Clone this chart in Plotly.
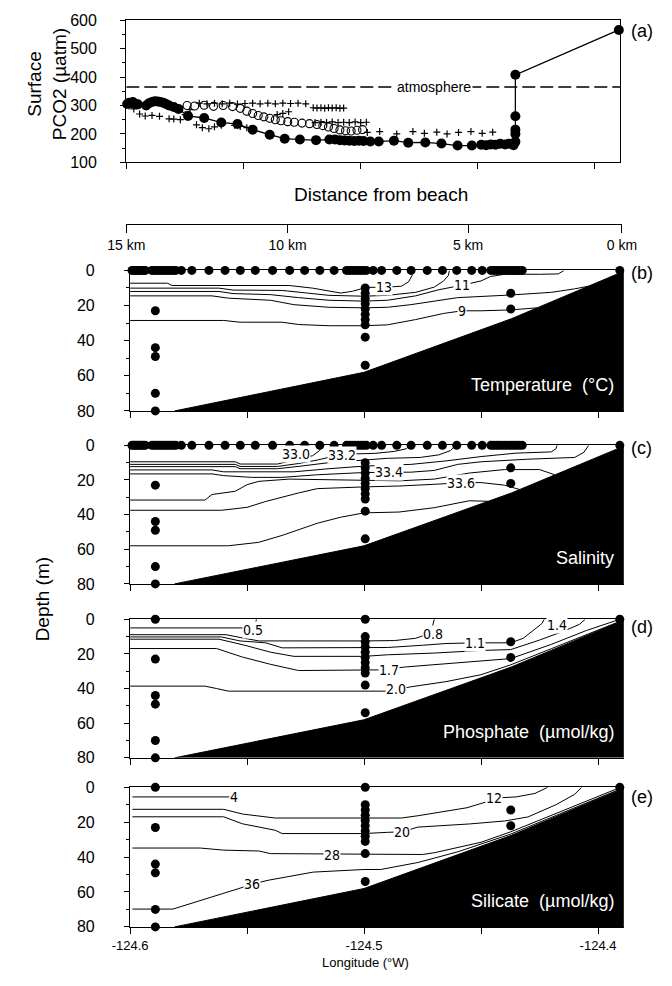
import plotly.graph_objects as go

# ---------------- panel (a): surface pCO2 ----------------
pco2_filled_lon = [-124.5996, -124.5988, -124.5980, -124.5972, -124.5963, -124.5951, -124.5915, -124.5903,
                   -124.5890, -124.5878, -124.5866, -124.5854, -124.5842, -124.5830, -124.5817, -124.5797,
                   -124.5777, -124.5736, -124.5667, -124.5594, -124.5525, -124.5460, -124.5387, -124.5323,
                   -124.5258, -124.5189, -124.5132, -124.5108, -124.5087, -124.5067, -124.5047, -124.5026,
                   -124.5006, -124.4986, -124.4957, -124.4921, -124.4856, -124.4795, -124.4722, -124.4653,
                   -124.4584, -124.4523, -124.4483, -124.4462, -124.4442, -124.4422, -124.4402, -124.4381,
                   -124.4365, -124.4345, -124.4337, -124.4337, -124.4337, -124.4337, -124.4337, -124.3895]
pco2_filled_val = [305, 310, 308, 312, 306, 304, 300, 308,
                   312, 315, 314, 312, 310, 305, 300, 295,
                   288, 263, 256, 240, 235, 215, 197, 183,
                   180, 178, 180, 180, 178, 177, 176, 175,
                   176, 175, 173, 173, 176, 169, 170, 166,
                   159, 159, 162, 160, 163, 162, 165, 163,
                   165, 160, 172, 200, 215, 262, 408, 566]
pco2_open_lon = [-124.5740, -124.5708, -124.5667, -124.5627, -124.5586, -124.5546, -124.5513, -124.5485,
                 -124.5460, -124.5436, -124.5412, -124.5387, -124.5363, -124.5339, -124.5310, -124.5282,
                 -124.5249, -124.5217, -124.5185, -124.5160, -124.5136, -124.5112, -124.5087, -124.5063,
                 -124.5039, -124.5014, -124.4990]
pco2_open_val = [300, 298, 301, 297, 300, 296, 290, 280,
                 272, 265, 260, 255, 250, 246, 243, 241,
                 238, 236, 233, 229, 224, 219, 214, 211,
                 210, 213, 215]
pco2_cross_lon = [-124.5988, -124.5968, -124.5943, -124.5919, -124.5890, -124.5858, -124.5817, -124.5797,
                  -124.5769, -124.5748, -124.5728, -124.5700, -124.5675, -124.5647, -124.5623, -124.5594,
                  -124.5688, -124.5655, -124.5623, -124.5590, -124.5558, -124.5525, -124.5493, -124.5460,
                  -124.5428, -124.5395, -124.5363, -124.5331, -124.5298, -124.5266, -124.5233,
                  -124.5537, -124.5513, -124.5485, -124.5355, -124.5331, -124.5306,
                  -124.5201, -124.5185, -124.5168, -124.5152, -124.5136, -124.5120, -124.5103, -124.5087, -124.5071,
                  -124.5193, -124.5168, -124.5144, -124.5120, -124.5095, -124.5071, -124.5047, -124.5022,
                  -124.4998, -124.4974,
                  -124.4970, -124.4917, -124.4844, -124.4775, -124.4726, -124.4673, -124.4629, -124.4580,
                  -124.4527, -124.4479, -124.4434]
pco2_cross_val = [298, 288, 270, 263, 265, 262, 253, 252,
                  250, 268, 285, 232, 222, 218, 225, 230,
                  308, 306, 308, 306, 308, 305, 307, 308,
                  306, 308, 306, 308, 307, 308, 306,
                  230, 226, 222, 268, 272, 278,
                  292, 291, 292, 290, 292, 291, 292, 290, 291,
                  240, 241, 240, 242, 240, 241, 240, 242,
                  240, 241,
                  205, 208, 200, 208, 202, 206, 200, 205,
                  208, 202, 206]
atm_pco2 = 365
atm_lon = [-124.6, -124.389]
pco2_ticks = [100, 200, 300, 400, 500, 600]
pco2_minor = [150, 250, 350, 450, 550]

# ---------------- distance / longitude axes ----------------
dist_labels = ["15 km", "10 km", "5 km", "0 km"]
dist_lon = [-124.6016, -124.5327, -124.4556, -124.3899]
lon_ticks = [-124.6, -124.55, -124.5, -124.45, -124.4]
lon_ticktext = ["-124.6", "", "-124.5", "", "-124.4"]
lon_range = [-124.6, -124.389]
depth_ticks = [0, 20, 40, 60, 80]
depth_minor = [10, 30, 50, 70]

# ---------------- bathymetry ----------------
bathy_lon = [-124.581, -124.5, -124.437, -124.389, -124.389]
bathy_depth = [80, 58, 27.5, 0.5, 80]

# ---------------- sampling ----------------
underway_lon = [-124.5992, -124.5984, -124.5976, -124.5968, -124.5959, -124.5951, -124.5943, -124.5935,
                -124.5907, -124.5897, -124.5886, -124.5876, -124.5866, -124.5856, -124.5846, -124.5836,
                -124.5826, -124.5815, -124.5805,
                -124.5781, -124.5736, -124.5663, -124.5594, -124.5529, -124.5465, -124.5391, -124.5318,
                -124.5254, -124.5189, -124.5128,
                -124.5075, -124.5063, -124.5051, -124.5039, -124.5026, -124.5014, -124.5002, -124.4990,
                -124.4961, -124.4925, -124.4860, -124.4799, -124.4730, -124.4665, -124.4604, -124.4540,
                -124.4495,
                -124.4458, -124.4446, -124.4434, -124.4422, -124.4410, -124.4397, -124.4385, -124.4373,
                -124.4361, -124.4349, -124.4337, -124.4324,
                -124.3907]
station_lon = [-124.5892, -124.4995, -124.4373]
station_depths = [[23, 44, 49, 70, 80],
                  [10, 13, 16, 19, 22, 25, 28, 31, 38, 54],
                  [13, 22]]
surface_cast_lon = [-124.5892, -124.4995, -124.3907]

# ---------------- isolines (lon, depth) ----------------
temp_lines = {
    "13": ([-124.6, -124.584, -124.582, -124.532, -124.522, -124.515, -124.51, -124.505, -124.499, -124.49,
            -124.484, -124.481, -124.4795, -124.4795],
           [7.3, 7.3, 8.6, 8.6, 10.1, 11.9, 12.9, 11.9, 9.7, 9.5, 9, 6.5, 3, 0]),
    "12": ([-124.6, -124.562, -124.556, -124.535, -124.525, -124.515, -124.5, -124.49, -124.478, -124.47,
            -124.466, -124.464, -124.4635],
           [10.1, 10.1, 11.2, 11.4, 12.8, 14.2, 14.7, 14.2, 12.5, 9.5, 6, 3, 0]),
    "11": ([-124.6, -124.562, -124.556, -124.54, -124.528, -124.515, -124.5, -124.49, -124.478, -124.468,
            -124.458, -124.45, -124.446, -124.44, -124.425, -124.417, -124.4145],
           [12, 12, 13.2, 13.8, 15.5, 17, 17.5, 17, 14.5, 11, 8.4, 6, 3.5, 2.2, 2.2, 2, 0]),
    "10": ([-124.6, -124.565, -124.558, -124.54, -124.53, -124.515, -124.5, -124.49, -124.48, -124.46,
            -124.4373, -124.42, -124.41, -124.404],
           [14.5, 14.5, 15.8, 17, 19.5, 21, 21.3, 21, 19.5, 15.5, 14, 12.5, 10.5, 9.0]),
    "9": ([-124.6, -124.56, -124.553, -124.535, -124.528, -124.515, -124.5, -124.49, -124.478, -124.466,
           -124.458, -124.45, -124.4373, -124.426],
          [28.5, 28.5, 29.5, 29.5, 30.8, 31.5, 31.5, 31, 28, 24.5, 23, 23, 22.5, 21.3]),
}
temp_labels = [("13", -124.4915, 9.5), ("11", -124.458, 8.4), ("9", -124.458, 23)]

sal_lines = {
    "33.0": ([-124.6, -124.555, -124.553, -124.537, -124.533, -124.527, -124.522, -124.519, -124.518],
             [9.5, 9.5, 10.8, 10.8, 9.5, 7.8, 6, 3, 0]),
    "33.1": ([-124.6, -124.555, -124.553, -124.537, -124.528, -124.52, -124.513, -124.505, -124.495,
              -124.487, -124.482, -124.4805],
             [11, 11, 12.2, 12.2, 10.5, 8.5, 6.3, 5, 4.6, 3.5, 2, 0]),
    "33.2": ([-124.6, -124.555, -124.553, -124.537, -124.527, -124.515, -124.5, -124.49, -124.476,
              -124.468, -124.463, -124.461],
             [12.3, 12.3, 13.5, 13.5, 12, 10, 8.5, 7.5, 7, 5.5, 3, 0]),
    "33.3": ([-124.6, -124.565, -124.56, -124.53, -124.515, -124.5, -124.48, -124.465, -124.45, -124.435,
              -124.42, -124.418, -124.4175],
             [14.2, 14.2, 15.3, 15.3, 13.5, 12, 11, 9, 6.5, 4.5, 3.8, 2, 0]),
    "33.4": ([-124.6, -124.565, -124.56, -124.548, -124.535, -124.52, -124.5, -124.48, -124.47, -124.46,
              -124.45, -124.43, -124.41, -124.406, -124.404],
             [16.5, 16.5, 17.5, 18.5, 18.5, 17, 15.7, 15.5, 14.5, 11, 9.5, 8, 7, 4, 0]),
    "33.5": ([-124.6, -124.568, -124.565, -124.555, -124.55, -124.545, -124.532, -124.515, -124.5,
              -124.485, -124.47, -124.455, -124.44, -124.425, -124.4185],
             [31.6, 31.6, 28.4, 26.5, 22.7, 20.8, 19.5, 19.8, 20, 20.5, 19.5, 16, 14, 14, 17]),
    "33.6": ([-124.6, -124.561, -124.55, -124.542, -124.528, -124.52, -124.5, -124.485, -124.47,
              -124.4585, -124.45, -124.44, -124.4335],
             [37.5, 37.5, 35.8, 32.4, 27.5, 25, 24, 23.5, 22.5, 21.6, 21.5, 23, 25.5]),
    "33.7": ([-124.6, -124.558, -124.545, -124.535, -124.52, -124.51, -124.5, -124.485, -124.47, -124.455,
              -124.447],
             [58, 58, 56, 52, 45, 41.5, 39, 38.5, 36, 32, 32.3]),
}
sal_labels = [("33.0", -124.529, 5.2), ("33.2", -124.5095, 5.4), ("33.4", -124.4895, 15.4),
              ("33.6", -124.4585, 21.6)]

phos_lines = {
    "0.5": ([-124.6, -124.55, -124.5465, -124.546], [5, 5, 3, 0]),
    "0.8": ([-124.6, -124.559, -124.553, -124.545, -124.5, -124.487, -124.478, -124.4715, -124.47],
            [8.9, 8.9, 10.5, 12.5, 12.5, 12.3, 11, 8, 0]),
    "1.1": ([-124.6, -124.561, -124.553, -124.542, -124.535, -124.5, -124.49, -124.475, -124.465, -124.4527,
             -124.44, -124.4373, -124.432, -124.427, -124.424, -124.423],
            [10.2, 10.2, 12.5, 13.6, 16.5, 16.5, 16.3, 15, 14, 13.6, 13.6, 13.6, 11, 6, 2.5, 0]),
    "1.4": ([-124.6, -124.562, -124.551, -124.54, -124.53, -124.5, -124.49, -124.47, -124.45, -124.4373,
             -124.425, -124.415, -124.408, -124.4055],
            [11.5, 11.5, 15, 19, 21.4, 21.4, 20.5, 19.5, 18, 17.5, 12, 7, 3, 0]),
    "1.7": ([-124.6, -124.563, -124.552, -124.54, -124.528, -124.5, -124.492, -124.483, -124.465, -124.45,
             -124.4373, -124.42, -124.405, -124.392],
            [16.9, 16.9, 21.8, 26, 29.6, 29.6, 29.2, 27.6, 25.5, 24, 22.7, 14.5, 6.5, 0.6]),
    "2.0": ([-124.6, -124.568, -124.563, -124.558, -124.5, -124.49, -124.48, -124.465, -124.45, -124.4373,
             -124.42, -124.405, -124.391],
            [38.6, 38.6, 40, 41.5, 41.5, 41.5, 39, 36, 32, 26.3, 17, 8.8, 1.4]),
}
phos_labels = [("0.5", -124.5475, 6.0), ("0.8", -124.4705, 8.5), ("1.1", -124.4527, 13.6),
               ("1.4", -124.4175, 3.4), ("1.7", -124.4895, 29.2), ("2.0", -124.4865, 40.5)]

sil_lines = {
    "4": ([-124.599, -124.5575], [5.5, 5.5]),
    "12": ([-124.599, -124.56, -124.552, -124.538, -124.484, -124.477, -124.456, -124.447, -124.442,
            -124.435, -124.427, -124.4215],
           [12.6, 12.6, 15.3, 17.6, 17.6, 16.3, 11.7, 8, 6, 5.5, 3.5, 0]),
    "20": ([-124.599, -124.56, -124.552, -124.538, -124.535, -124.5, -124.49, -124.4836, -124.477, -124.455,
            -124.44, -124.43, -124.418, -124.41, -124.407],
           [16.9, 16.9, 20.9, 24.6, 26.5, 26.5, 25.8, 25.5, 22.8, 21, 19.3, 17, 10, 4, 0]),
    "28": ([-124.599, -124.57, -124.56, -124.545, -124.54, -124.5, -124.475, -124.47, -124.45, -124.4373,
            -124.42, -124.405, -124.3915],
           [34.8, 34.8, 36, 36.5, 38, 38.5, 38.5, 37.5, 31.5, 25.5, 16, 7.8, 0.6]),
    "36": ([-124.599, -124.5817, -124.553, -124.548, -124.5407, -124.5217, -124.5, -124.4929, -124.477,
            -124.46, -124.4373, -124.42, -124.405, -124.3905],
           [69.8, 69.8, 57.8, 55.5, 53.2, 48.6, 47.1, 47.1, 43.1, 37, 26.8, 17.2, 8.8, 1.0]),
}
sil_labels = [("4", -124.5554, 5.5), ("12", -124.4445, 6.3), ("20", -124.4836, 25.5),
              ("28", -124.5136, 38.8), ("36", -124.548, 55.5)]

panels = [
    ("Temperature  (°C)", temp_lines, temp_labels, True, "(b)"),
    ("Salinity", sal_lines, sal_labels, True, "(c)"),
    ("Phosphate  (µmol/kg)", phos_lines, phos_labels, False, "(d)"),
    ("Silicate  (µmol/kg)", sil_lines, sil_labels, False, "(e)"),
]

# ---------------- layout geometry (pixels) ----------------
W, H = 672, 986
def fx(p):
    return p / W
def fy(p):
    return 1 - p / H

panel_px = [(267, 410), (445, 586), (622, 763), (793, 935)]
label_py = [270, 448, 630, 803]

FONT = "Liberation Sans, Arial, Helvetica, sans-serif"
NARROW = "Liberation Sans Narrow, DejaVu Sans Condensed, Liberation Sans, sans-serif"

fig = go.Figure()

# panel (a)
fig.add_trace(go.Scatter(x=atm_lon, y=[atm_pco2, atm_pco2], mode="lines",
                         line=dict(color="black", width=1.5, dash="13px,5px"),
                         xaxis="x", yaxis="y", showlegend=False))
fig.add_trace(go.Scatter(x=pco2_cross_lon, y=pco2_cross_val, mode="markers",
                         marker=dict(symbol="cross-thin", size=5, line=dict(color="black", width=1.2)),
                         xaxis="x", yaxis="y", showlegend=False, cliponaxis=False))
fig.add_trace(go.Scatter(x=pco2_open_lon, y=pco2_open_val, mode="markers",
                         marker=dict(symbol="circle-open", size=8, color="black", line=dict(width=1.1)),
                         xaxis="x", yaxis="y", showlegend=False, cliponaxis=False))
fig.add_trace(go.Scatter(x=pco2_filled_lon, y=pco2_filled_val, mode="lines+markers",
                         line=dict(color="black", width=1.3),
                         marker=dict(symbol="circle", size=10, color="black"),
                         xaxis="x", yaxis="y", showlegend=False, cliponaxis=False))

annotations = []
annotations.append(dict(x=-124.4686, y=atm_pco2, xref="x", yref="y", text="atmosphere", showarrow=False,
                        font=dict(family=FONT, size=14, color="black"), bgcolor="white", borderpad=1))

# section panels
for i, (name, lines, labels, underway, tag) in enumerate(panels):
    k = i + 2
    xa, ya = f"x{k}", f"y{k}"
    fig.add_trace(go.Scatter(x=bathy_lon, y=bathy_depth, mode="lines", fill="toself",
                             fillcolor="black", line=dict(color="black", width=1),
                             xaxis=xa, yaxis=ya, showlegend=False))
    for key, (lx, ld) in lines.items():
        fig.add_trace(go.Scatter(x=lx, y=ld, mode="lines", line=dict(color="black", width=1),
                                 xaxis=xa, yaxis=ya, showlegend=False))
    cx, cy = [], []
    for slon, deps in zip(station_lon, station_depths):
        for d in deps:
            cx.append(slon)
            cy.append(d)
    if underway:
        sx = underway_lon
    else:
        sx = surface_cast_lon
    cx = cx + list(sx)
    cy = cy + [0] * len(sx)
    fig.add_trace(go.Scatter(x=cx, y=cy, mode="markers",
                             marker=dict(symbol="circle", size=9, color="black"),
                             xaxis=xa, yaxis=ya, showlegend=False, cliponaxis=False))
    for txt, lx, ld in labels:
        annotations.append(dict(x=lx, y=ld, xref=xa, yref=ya, text=txt, showarrow=False,
                                font=dict(family=NARROW, size=14, color="black"),
                                bgcolor="white", borderpad=0))
    annotations.append(dict(x=-124.3925, y=65, xref=xa, yref=ya, text=name, showarrow=False,
                            xanchor="right", yanchor="middle",
                            font=dict(family=FONT, size=18, color="white")))
    annotations.append(dict(x=fx(643), y=fy(label_py[i]), xref="paper", yref="paper", text=tag,
                            showarrow=False, xanchor="left", yanchor="middle",
                            font=dict(family=FONT, size=18, color="black")))

# distance axis helper trace
fig.add_trace(go.Scatter(x=[dist_lon[0]], y=[0], mode="markers", marker=dict(opacity=0),
                         xaxis="x6", yaxis="y6", showlegend=False, hoverinfo="skip"))

annotations += [
    dict(x=fx(643), y=fy(23), xref="paper", yref="paper", text="(a)", showarrow=False,
         xanchor="left", yanchor="middle", font=dict(family=FONT, size=18, color="black")),
    dict(x=fx(29), y=fy(78), xref="paper", yref="paper", text="Surface<br>PCO2 (µatm)", showarrow=False,
         textangle=-90, xanchor="center", yanchor="middle", font=dict(family=FONT, size=19, color="black")),
    dict(x=fx(25), y=fy(602), xref="paper", yref="paper", text="Depth (m)", showarrow=False,
         textangle=-90, xanchor="center", yanchor="middle", font=dict(family=FONT, size=19, color="black")),
    dict(x=fx(381), y=fy(190), xref="paper", yref="paper", text="Distance from beach", showarrow=False,
         xanchor="center", yanchor="middle", font=dict(family=FONT, size=19, color="black")),
    dict(x=fx(365), y=fy(971), xref="paper", yref="paper", text="Longitude (°W)", showarrow=False,
         xanchor="center", yanchor="middle", font=dict(family=FONT, size=13, color="black")),
]

base = dict(showline=True, linecolor="black", linewidth=1.3, ticks="outside", tickcolor="black",
            tickwidth=1.3, ticklen=5, showgrid=False, zeroline=False,
            tickfont=dict(family=FONT, size=16, color="black"))

layout = dict(
    width=W, height=H, margin=dict(l=0, r=0, t=0, b=0),
    paper_bgcolor="white", plot_bgcolor="white", showlegend=False,
    annotations=annotations,
    xaxis=dict(base, domain=[fx(113), fx(633)], range=lon_range, anchor="y", mirror=True,
               tickvals=lon_ticks, showticklabels=False, ticklen=6),
    yaxis=dict(base, domain=[fy(157), fy(12.5)], range=[100, 600], anchor="x", mirror=True,
               tickvals=pco2_ticks, ticklabelstandoff=20,
               minor=dict(tickvals=pco2_minor, ticks="outside", ticklen=3, tickcolor="black", tickwidth=1)),
    xaxis6=dict(showline=True, linecolor="black", linewidth=1.3, ticks="outside", ticklen=8,
                tickcolor="black", tickwidth=1.3, showgrid=False, zeroline=False,
                domain=[fx(113), fx(635)], range=[dist_lon[0], dist_lon[-1]], anchor="y6",
                tickvals=dist_lon, ticktext=dist_labels,
                tickfont=dict(family=FONT, size=14, color="black")),
    yaxis6=dict(domain=[fy(220), fy(219)], range=[0, 1], anchor="x6", visible=False, fixedrange=True),
)
for i, (top, bot) in enumerate(panel_px):
    k = i + 2
    layout[f"xaxis{k}"] = dict(base, domain=[fx(117), fx(637)], range=lon_range, anchor=f"y{k}",
                               mirror=True, tickvals=lon_ticks, ticktext=lon_ticktext,
                               showticklabels=(k == 5), ticklen=6,
                               tickfont=dict(family=FONT, size=13, color="black"))
    layout[f"yaxis{k}"] = dict(base, domain=[fy(bot), fy(top)], range=[80, 0], anchor=f"x{k}",
                               tickvals=depth_ticks, ticklabelstandoff=26,
                               minor=dict(tickvals=depth_minor, ticks="outside", ticklen=3,
                                          tickcolor="black", tickwidth=1))
fig.update_layout(**layout)

fig.write_html("out.html")
